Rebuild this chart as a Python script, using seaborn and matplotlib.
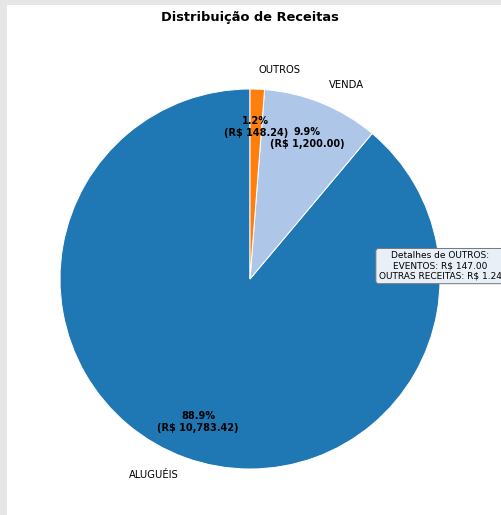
import matplotlib
matplotlib.use("Agg")
import matplotlib.pyplot as plt
import seaborn as sns
from matplotlib.patches import Rectangle

sns.set_theme(style="white")
plt.rcParams['font.family'] = ['DejaVu Sans']
plt.rcParams['text.color'] = 'black'

categorias = ['ALUGUÉIS', 'VENDA', 'OUTROS']
valores = [10783.42, 1200.00, 148.24]
detalhes_outros = ['EVENTOS', 'OUTRAS RECEITAS']
valores_outros = [147.00, 1.24]

cores = sns.color_palette('tab20', 3)
total = sum(valores)

W, H, DPI = 501, 515, 72
fig = plt.figure(figsize=(W / DPI, H / DPI), dpi=DPI, facecolor='#e6e6e6')
fig.patches.append(Rectangle((7 / W, 0), 1, 1 - 5 / H, transform=fig.transFigure,
                             facecolor='white', edgecolor='none', zorder=-5))

R = 190
cx, cy = 250, H - 279
ax = fig.add_axes([(cx - 1.25 * R) / W, (cy - 1.25 * R) / H, 2.5 * R / W, 2.5 * R / H])
ax.set_zorder(5)
ax.patch.set_alpha(0)


def fmt(pct):
    v = pct * total / 100
    return f'{pct:.1f}%\n(R$ {v:,.2f})'


wedges, texts, autotexts = ax.pie(valores, labels=categorias, colors=cores, autopct=fmt,
                                  startangle=90, pctdistance=0.8,
                                  wedgeprops=dict(edgecolor='white', linewidth=1),
                                  textprops=dict(fontsize=10, color='black'))
for t in autotexts:
    t.set_fontsize(9.7)
    t.set_fontweight('bold')
ax.set_xlim(-1.25, 1.25)
ax.set_ylim(-1.25, 1.25)
ax.set_aspect('equal')

linhas = ['Detalhes de OUTROS:'] + [f'{n}: R$ {v:,.2f}' for n, v in zip(detalhes_outros, valores_outros)]
ax.text(1.0, 0.068, '\n'.join(linhas), ha='center', va='center', fontsize=9, clip_on=False,
        color='black', bbox=dict(boxstyle='round', facecolor='#e9eff6', edgecolor='#6f7a86'))

fig.text(250 / W, 1 - 17 / H, 'Distribuição de Receitas', ha='center', va='center',
         fontsize=13, fontweight='bold', color='black')

fig.savefig('out.png', dpi=DPI, facecolor=fig.get_facecolor())
